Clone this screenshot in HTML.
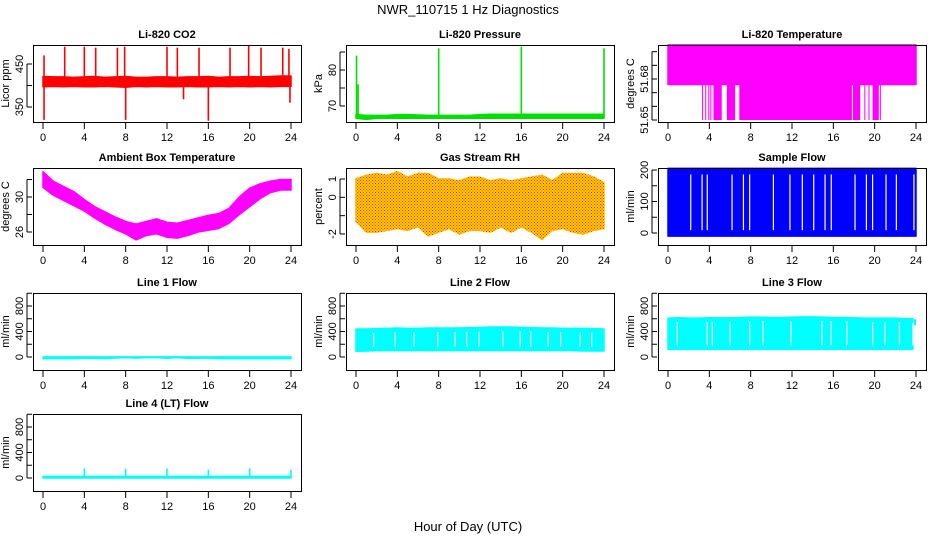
<!DOCTYPE html>
<html><head><meta charset="utf-8"><style>
html,body{margin:0;padding:0;background:#fff;}
svg{display:block;font-family:"Liberation Sans",sans-serif;}
</style></head><body>
<svg id="chart" width="936" height="540" viewBox="0 0 936 540">
<defs>
<pattern id="rhpat" width="3" height="3" patternUnits="userSpaceOnUse">
<rect width="3" height="3" fill="#ffd000"/><rect x="0" y="0" width="1" height="1" fill="#ff2a00"/><rect x="1.5" y="1.5" width="1" height="1" fill="#ff2a00"/>
</pattern>
</defs>
<text x="468" y="14" text-anchor="middle" font-size="13">NWR_110715  1 Hz Diagnostics</text>
<text x="468" y="531" text-anchor="middle" font-size="13">Hour of Day (UTC)</text>
</svg>
<script>
const hours = [0,1,2,3,4,5,6,7,8,9,10,11,12,13,14,15,16,17,18,19,20,21,22,23,24];
const xTicks = [0,4,8,12,16,20,24];
// CO2
const co2Hi = [421,420,420,419,420,421,419,420,421,419,419,420,420,419,420,420,421,419,420,420,421,420,421,422,422];
const co2Lo = [397,398,397,398,397,397,398,397,396,398,397,398,397,397,398,397,397,398,397,398,397,398,397,398,398];
const co2Spikes = [[0.1,470],[0.1,320],[2.1,490],[4.0,490],[5.1,488],[7.2,488],[7.9,490],[8.0,320],[12.0,490],[13.0,488],[13.6,368],[15.1,488],[16.0,318],[18.1,488],[19.9,492],[21.1,488],[23.2,488],[23.8,485],[23.9,360]];
// Pressure
const presHi = [67.6,67.4,67.4,67.4,67.6,67.6,67.5,67.4,67.4,67.4,67.4,67.4,67.6,67.7,67.7,67.7,67.7,67.7,67.7,67.7,67.7,67.7,67.7,67.7,67.7];
const presLo = [66.6,66.3,66.6,66.6,66.6,66.6,66.6,66.6,66.6,66.6,66.6,66.6,66.6,66.6,66.6,66.6,66.6,66.6,66.6,66.6,66.6,66.6,66.6,66.6,66.6];
const presSpikes = [[0.05,84],[0.2,76],[8.0,86],[16.0,86.5],[24.0,86]];
// Li-820 temperature
const ltHi = [51.705,51.705,51.705,51.705,51.705,51.705,51.705,51.705,51.705,51.705,51.705,51.705,51.705,51.705,51.705,51.705,51.705,51.705,51.705,51.705,51.705,51.705,51.705,51.705,51.705];
const ltLo = [51.676,51.676,51.676,51.676,51.676,51.676,51.676,51.676,51.676,51.676,51.676,51.676,51.676,51.676,51.676,51.676,51.676,51.676,51.676,51.676,51.676,51.676,51.676,51.676,51.676];
const ltDrops = [[3.3,3.4],[3.6,3.7],[3.9,4.0],[4.1,4.2],[4.4,5.2],[5.7,6.5],[6.9,17.8],[17.9,18.6],[19.0,19.1],[19.4,19.5],[19.8,20.4],[20.5,20.6]];
const ltDropMin = 51.65;
// Ambient box temperature
const ambHi = [32.9,31.8,31.2,30.6,29.7,28.9,28.3,27.7,27.2,26.9,27.2,27.5,27.1,27.0,27.3,27.6,27.9,28.1,28.7,30.0,31.0,31.5,31.8,32.0,32.0];
const ambLo = [31.1,30.2,29.6,29.0,28.4,27.6,26.9,26.3,25.8,25.1,25.6,25.8,25.4,25.3,25.6,26.0,26.2,26.4,27.0,28.0,28.9,29.8,30.5,30.8,30.8];
// Gas stream RH
const rhHi = [1.0,1.2,1.3,1.2,1.4,1.1,1.3,1.3,1.0,1.0,0.9,1.1,1.1,0.9,1.0,0.9,1.0,1.1,1.2,0.9,1.3,1.3,1.3,1.1,0.8];
const rhLo = [-1.3,-1.9,-1.9,-1.8,-1.7,-1.8,-1.6,-2.1,-1.9,-1.7,-2.0,-1.8,-1.8,-1.9,-1.6,-1.9,-1.6,-1.9,-2.3,-1.8,-1.7,-1.9,-2.0,-1.8,-1.7];
// Sample flow
const sfHi = [205,205,205,205,205,205,205,205,205,205,205,205,205,205,205,205,205,205,205,205,205,205,205,205,205];
const sfLo = [-10,-10,-10,-10,-10,-10,-10,-10,-10,-10,-10,-10,-10,-10,-10,-10,-10,-10,-10,-10,-10,-10,-10,-10,-10];
const sfGaps = [2.2,3.3,3.8,6.2,7.3,7.9,10.2,11.8,13.0,14.1,15.2,15.8,18.1,19.2,19.8,21.1,22.1,23.8];
// Line flows
const l1Hi = [2,2,2,2,2,2,2,2,2,2,2,2,2,2,2,2,2,2,2,2,2,2,2,2,2];
const l1Lo = [-25,-25,-25,-25,-20,-20,-25,-15,-10,-15,-10,-10,-20,-10,-20,-20,-15,-25,-25,-25,-25,-25,-25,-25,-25];
const l2Hi = [440,440,445,450,455,450,450,455,455,455,455,460,465,470,470,470,465,460,455,455,450,450,450,445,440];
const l2Lo = [90,95,100,100,100,100,100,100,100,100,100,100,100,100,100,100,100,100,100,100,100,100,95,95,95];
const l2Gaps = [1.7,3.8,5.6,7.9,9.6,10.7,11.9,14.2,15.9,16.9,18.6,19.8,21.7,22.8];
const l3Hi = [610,615,610,610,615,615,615,620,625,625,620,620,625,630,630,625,620,620,615,610,610,610,610,600,600];
const l3Lo = [120,120,120,120,120,120,120,120,120,120,120,120,120,120,120,120,120,120,120,120,120,120,120,120,120];
const l3Gaps = [0.9,3.8,4.3,6.0,7.9,9.2,11.9,14.9,15.8,17.3,19.8,21.0,22.4,23.7];
const l3TailBlock = [[23.8,24.0,590,500]];
const l4Hi = [25,25,25,25,25,25,25,25,25,25,25,25,25,25,25,25,25,25,25,25,25,25,25,25,25];
const l4Lo = [0,0,0,0,0,0,0,0,0,0,0,0,0,0,0,0,0,0,0,0,0,0,0,0,0];
const l4Spikes = [[4.0,150],[8.0,145],[12.0,150],[16.0,130],[20.0,150],[24.0,130]];

const NS = "http://www.w3.org/2000/svg";
const svg = document.getElementById('chart');
function mk(tag, attrs, parent){const e=document.createElementNS(NS,tag);for(const k in attrs)e.setAttribute(k,attrs[k]);(parent||svg).appendChild(e);return e;}

const colL=[33,346,658], rowT=[45,168,293,414], W=268, H=77;

function panel(p){
  const L=colL[p.col], T=rowT[p.row];
  const g=mk('g',{});
  
  
  const xs=h=>L+10+h*(W-20)/24;
  const k=(p.p2-p.p1)/(p.v2-p.v1);
  const ys=v=>T+p.p1+(v-p.v1)*k;
  const fill=p.fill;
  const n=p.endHour!==undefined?hours.filter(h=>h<=p.endHour).length:hours.length;
  const xEnd=p.endHour!==undefined?p.endHour:24;
  const pts=[];
  for(let i=0;i<hours.length;i++){const h=Math.min(hours[i],xEnd);pts.push(xs(h)+','+ys(p.hi[i]));}
  for(let i=hours.length-1;i>=0;i--){const h=Math.min(hours[i],xEnd);pts.push(xs(h)+','+ys(p.lo[i]));}
  const poly=mk('polygon',{points:pts.join(' '),fill:fill,stroke:fill,'stroke-width':1.5,'stroke-linejoin':'round'},g);
  
  
  if(p.blocks){p.blocks.forEach(b=>{
    const r=mk('rect',{x:xs(b[0]),y:ys(b[2]),width:xs(b[1])-xs(b[0]),height:ys(b[3])-ys(b[2]),fill:fill},g);
    
    
  });}
  if(p.drops){p.drops.forEach(d=>{
    const r=mk('rect',{x:xs(d[0]),y:ys(p.hi[0]),width:xs(d[1])-xs(d[0]),height:ys(p.dropMin)-ys(p.hi[0]),fill:fill},g);
    
    
  });}
  if(p.gaps){p.gaps.forEach((h,i)=>{
    const idx=Math.min(23,Math.floor(h));
    const top=ys(p.hi[idx])+(p.gapInset||4), bot=ys(p.lo[idx])-(p.gapInset||4);
    const l=mk('line',{x1:xs(h),x2:xs(h),y1:top,y2:bot,stroke:'#fff','stroke-width':1.2},g);
    
    
  });}
  if(p.spikes){p.spikes.forEach(s=>{
    const idx=Math.min(23,Math.floor(s[0]));
    const base=s[1]>p.hi[idx]?p.hi[idx]:p.lo[idx];
    const l=mk('line',{x1:xs(s[0]),x2:xs(s[0]),y1:ys(base),y2:ys(s[1]),stroke:p.spikeColor||fill,'stroke-width':1.6},g);
    
    
  });}
  const b=mk('rect',{x:L+0.5,y:T+0.5,width:W,height:H,fill:'none',stroke:'#000','stroke-width':1},g);
  
  
  xTicks.forEach(t=>{
    mk('line',{x1:xs(t),x2:xs(t),y1:T+H+1,y2:T+H+7,stroke:'#000'},g);
    const tx=mk('text',{x:xs(t),y:T+H+19,'text-anchor':'middle','font-size':11},g);
    tx.textContent=t;
    
    
  });
  mk('line',{x1:L-6,x2:L-6,y1:ys(p.ticks[0]),y2:ys(p.ticks[p.ticks.length-1]),stroke:'#000'},g);
  p.ticks.forEach(t=>{mk('line',{x1:L-6,x2:L-1,y1:ys(t),y2:ys(t),stroke:'#000'},g);});
  p.labels.forEach(t=>{
    const yy=ys(t);
    const tx=mk('text',{x:0,y:0,'text-anchor':'middle','font-size':11,transform:`translate(${L-10},${yy}) rotate(-90)`},g);
    tx.textContent=p.fmt?p.fmt(t):t;
    
    
  });
  const yt=mk('text',{x:0,y:0,'text-anchor':'middle','font-size':11,transform:`translate(${L-24},${T+H/2}) rotate(-90)`},g);
  yt.textContent=p.ylab;
  
  
  const tt=mk('text',{x:L+W/2,y:T-7,'text-anchor':'middle','font-size':11,'font-weight':'bold'},g);
  tt.textContent=p.title;
  
  
}

panel({name:'co2-panel',title:'Li-820 CO2',ylab:'Licor ppm',col:0,row:0,v1:450,p1:19,v2:350,p2:62,hi:co2Hi,lo:co2Lo,spikes:co2Spikes,fill:'#ff0000',ticks:[350,400,450],labels:[350,450]});
panel({name:'pressure-panel',title:'Li-820 Pressure',ylab:'kPa',col:1,row:0,v1:80,p1:25,v2:70,p2:61,hi:presHi,lo:presLo,spikes:presSpikes,fill:'#00e000',ticks:[70,75,80,85],labels:[70,80]});
panel({name:'li820-temp-panel',title:'Li-820 Temperature',ylab:'degrees C',col:2,row:0,v1:51.68,p1:34,v2:51.65,p2:75,hi:ltHi,lo:ltLo,drops:ltDrops,dropMin:ltDropMin,fill:'#ff00ff',ticks:[51.65,51.66,51.67,51.68,51.69,51.70],labels:[51.65,51.68],fmt:v=>v.toFixed(2)});
panel({name:'ambient-temp-panel',title:'Ambient Box Temperature',ylab:'degrees C',col:0,row:1,v1:30,p1:29,v2:26,p2:64,hi:ambHi,lo:ambLo,fill:'#ff00ff',ticks:[26,28,30,32],labels:[26,30]});
panel({name:'rh-panel',title:'Gas Stream RH',ylab:'percent',col:1,row:1,v1:1,p1:11,v2:-2,p2:66,hi:rhHi,lo:rhLo,fill:'url(#rhpat)',ticks:[-2,-1,0,1],labels:[-2,0,1]});
panel({name:'sample-flow-panel',title:'Sample Flow',ylab:'ml/min',col:2,row:1,v1:200,p1:2,v2:0,p2:65,hi:sfHi,lo:sfLo,gaps:sfGaps,gapInset:6,fill:'#0000ff',ticks:[0,50,100,150,200],labels:[0,100,200]});
panel({name:'line1-flow-panel',title:'Line 1 Flow',ylab:'ml/min',col:0,row:2,v1:0,p1:64,v2:800,p2:13,hi:l1Hi,lo:l1Lo,fill:'#00ffff',ticks:[0,200,400,600,800,1000],labels:[0,400,800]});
panel({name:'line2-flow-panel',title:'Line 2 Flow',ylab:'ml/min',col:1,row:2,v1:0,p1:64,v2:800,p2:13,hi:l2Hi,lo:l2Lo,gaps:l2Gaps,fill:'#00ffff',ticks:[0,200,400,600,800,1000],labels:[0,400,800]});
panel({name:'line3-flow-panel',title:'Line 3 Flow',ylab:'ml/min',col:2,row:2,v1:0,p1:64,v2:800,p2:13,hi:l3Hi,lo:l3Lo,gaps:l3Gaps,blocks:l3TailBlock,endHour:23.7,fill:'#00ffff',ticks:[0,200,400,600,800,1000],labels:[0,400,800]});
panel({name:'line4-flow-panel',title:'Line 4 (LT) Flow',ylab:'ml/min',col:0,row:3,v1:0,p1:64,v2:800,p2:13,hi:l4Hi,lo:l4Lo,spikes:l4Spikes,fill:'#00ffff',ticks:[0,200,400,600,800,1000],labels:[0,400,800]});
</script>
</body></html>
